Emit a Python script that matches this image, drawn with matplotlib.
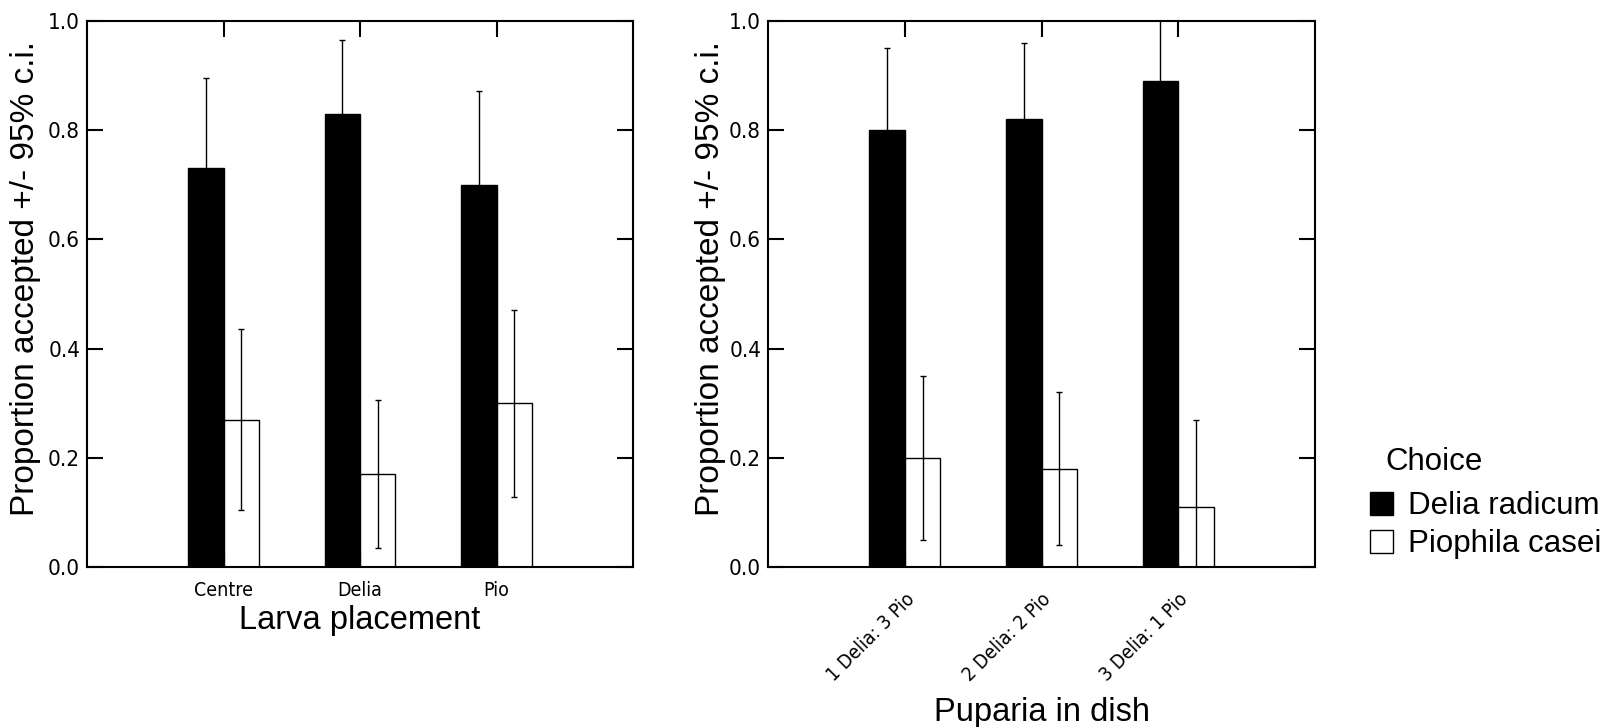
import matplotlib
matplotlib.use("Agg")
import matplotlib.pyplot as plt
import matplotlib.transforms as mtransforms
import numpy as np
from matplotlib import font_manager
from matplotlib.patches import Patch

# larva placement trial
placement_labels = ["Centre", "Delia", "Pio"]
placement_delia = [0.73, 0.83, 0.70]
placement_pio = [0.27, 0.17, 0.30]
placement_ci = [0.166, 0.136, 0.171]

# puparia ratio trial
dish_labels = ["1 Delia: 3 Pio", "2 Delia: 2 Pio", "3 Delia: 1 Pio"]
dish_delia = [0.80, 0.82, 0.89]
dish_pio = [0.20, 0.18, 0.11]
dish_ci = [0.15, 0.14, 0.16]

series_names = ["Delia radicum", "Piophila casei"]
legend_title = "Choice"


def pick_narrow_font():
    # prefer a condensed sans for the tick labels if one is around
    for f in font_manager.fontManager.ttflist:
        if "Narrow" in f.name and "Liberation" in f.name:
            return dict(fontfamily=f.name)
    for f in font_manager.fontManager.ttflist:
        if f.name == "DejaVu Sans" and str(f.stretch) in ("condensed", "semi-condensed") and f.style == "normal":
            return dict(fontfamily="DejaVu Sans", fontstretch="condensed")
    return dict(fontfamily="Liberation Sans")


NARROW = pick_narrow_font()
narrow_ok = NARROW["fontfamily"] != "Liberation Sans"

plt.rcParams["font.family"] = ["Liberation Sans", "DejaVu Sans"]
plt.rcParams["axes.linewidth"] = 1.5

W, H = 1617, 727
fig = plt.figure(figsize=(W / 100, H / 100), dpi=100)
ax_l = fig.add_axes([87 / W, 1 - 567 / H, 546 / W, 546 / H])
ax_r = fig.add_axes([768 / W, 1 - 567 / H, 547 / W, 546 / H])

BAR_W = 0.26


def draw_panel(ax, labels, delia, pio, ci, xlabel, rotate, ylab_x):
    x = np.arange(1, len(labels) + 1)
    ebar = dict(ecolor="black", elinewidth=1.0, capsize=2, capthick=1.0)
    ax.bar(x - BAR_W / 2, delia, BAR_W, yerr=ci, color="black",
           edgecolor="black", linewidth=1.0, error_kw=ebar)
    ax.bar(x + BAR_W / 2, pio, BAR_W, yerr=ci, color="white",
           edgecolor="black", linewidth=1.0, error_kw=ebar)
    ax.set_xlim(0, 4)
    ax.set_ylim(0, 1.0)
    yt = np.arange(0, 1.01, 0.2)
    ax.set_yticks(yt)
    ax.set_yticklabels([f"{v:.1f}" for v in yt], fontsize=16 if narrow_ok else 15, **NARROW)
    ax.set_xticks(x)
    if rotate:
        ax.set_xticklabels(labels, rotation=45, ha="right", rotation_mode="anchor",
                           fontsize=14 if narrow_ok else 12, **NARROW)
        shift = mtransforms.ScaledTranslation(16 / 100, 0, fig.dpi_scale_trans)
        for lab in ax.get_xticklabels():
            lab.set_transform(lab.get_transform() + shift)
    else:
        ax.set_xticklabels(labels, fontsize=14 if narrow_ok else 13.5, **NARROW)
    ax.tick_params(axis="both", direction="in", length=11.5, width=1.5,
                   top=True, right=True)
    ax.tick_params(axis="y", pad=5)
    ax.tick_params(axis="x", pad=16 if rotate else 10)
    ax.set_xlabel(xlabel, fontsize=23.5, labelpad=9 if rotate else 4)
    ax.set_ylabel("Proportion accepted +/- 95% c.i.", fontsize=24)
    ax.yaxis.set_label_coords(ylab_x, 0.528)


draw_panel(ax_l, placement_labels, placement_delia, placement_pio, placement_ci,
           "Larva placement", rotate=False, ylab_x=-0.085)
draw_panel(ax_r, dish_labels, dish_delia, dish_pio, dish_ci,
           "Puparia in dish", rotate=True, ylab_x=-0.076)

handles = [Patch(facecolor="black", edgecolor="black"),
           Patch(facecolor="white", edgecolor="black")]
fig.text(1385 / W, 1 - 462 / H, legend_title, fontsize=22.5, va="center", ha="left")
fig.legend(handles, series_names, loc="upper left",
           bbox_to_anchor=(1370 / W, 1 - 491 / H), frameon=False,
           fontsize=22.5, handlelength=0.75, handleheight=0.75, handletextpad=0.45,
           labelspacing=0.27, borderaxespad=0, borderpad=0)

fig.savefig("out.png", dpi=100)
